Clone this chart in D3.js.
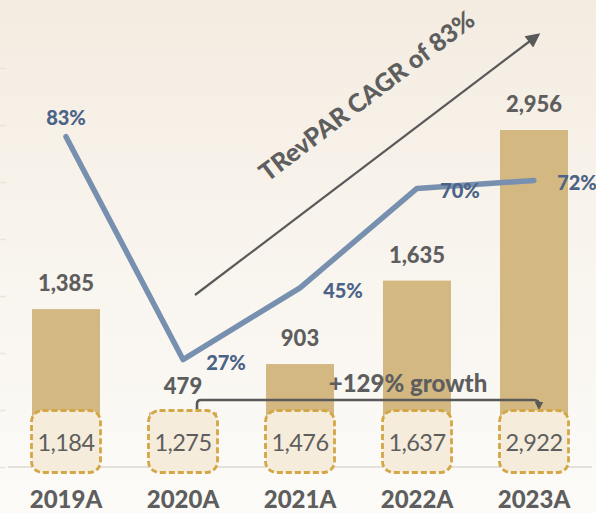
<!DOCTYPE html>
<html>
<head>
<meta charset="utf-8">
<script src="https://cdn.jsdelivr.net/npm/d3@7"></script>
<style>
  html, body { margin: 0; padding: 0; background: #fbf8f3; }
  svg { display: block; }
</style>
</head>
<body>
<svg id="chart" width="596" height="513"></svg>
<script>
// ---- Data ----
const years = ["2019A", "2020A", "2021A", "2022A", "2023A"];
const trevpar = [1385, 479, 903, 1635, 2956];
const boxValues = [1184, 1275, 1476, 1637, 2922];
const marginPct = [83, 27, 45, 70, 72];
const leftTicks = [0, 500, 1000, 1500, 2000, 2500, 3000, 3500];
const cagrLabel = "TRevPAR CAGR of 83%";
const growthLabel = "+129% growth";

// ---- Setup ----
const W = 596, H = 513;
const svg = d3.select("#chart");
const FONT = "Lato, 'Open Sans', sans-serif";
const BOLD = 900;
const GRAY = "#5e5e5e";
const BLUE_TXT = "#4b6386";
const BLUE_LINE = "#7890af";
const BAR = "#d4b882";

const defs = svg.append("defs");
const grad = defs.append("linearGradient").attr("id", "bg").attr("x1", 0).attr("y1", 0).attr("x2", 0).attr("y2", 1);
grad.append("stop").attr("offset", "0%").attr("stop-color", "#f4ece1");
grad.append("stop").attr("offset", "55%").attr("stop-color", "#f9f5ef");
grad.append("stop").attr("offset", "100%").attr("stop-color", "#fcfbf8");
svg.append("rect").attr("width", W).attr("height", H).attr("fill", "url(#bg)");

defs.append("marker").attr("id", "arrowHead").attr("viewBox", "0 0 10 10")
  .attr("refX", 8).attr("refY", 5).attr("markerWidth", 7).attr("markerHeight", 6.5)
  .attr("markerUnits", "strokeWidth").attr("orient", "auto")
  .append("path").attr("d", "M0,0 L10,5 L0,10 z").attr("fill", "#595959");
defs.append("marker").attr("id", "smallHead").attr("viewBox", "0 0 10 10")
  .attr("refX", 6).attr("refY", 5).attr("markerWidth", 3.2).attr("markerHeight", 3.2)
  .attr("markerUnits", "strokeWidth").attr("orient", "auto")
  .append("path").attr("d", "M0,0 L10,5 L0,10 z").attr("fill", "#595959");

// ---- Scales ----
const x = d3.scalePoint().domain(years).range([66, 534]);
const bw = 68;
const y = d3.scaleLinear().domain([0, 3500]).range([467, 68]);
const y2 = d3.scaleLinear().domain([0, 100]).range([467, 69]);

// faint left ticks
const axisL = d3.axisLeft(y).tickValues(leftTicks).tickSize(6).tickFormat("");
const gAx = svg.append("g").attr("transform", "translate(6,0)").call(axisL);
gAx.select(".domain").remove();
gAx.selectAll("line").attr("stroke", "#ebe4d8").attr("stroke-width", 1.5);

// baseline
svg.append("line").attr("x1", 8).attr("x2", 592).attr("y1", y(0)).attr("y2", y(0))
  .attr("stroke", "#e4e0da").attr("stroke-width", 2);

// ---- Bars ----
const data = years.map((yr, i) => ({ yr, v: trevpar[i], b: boxValues[i], p: marginPct[i] }));
svg.append("g").selectAll("rect").data(data).join("rect")
  .attr("x", d => x(d.yr) - bw / 2).attr("width", bw)
  .attr("y", d => y(d.v)).attr("height", d => y(0) - y(d.v))
  .attr("fill", BAR);

// value labels
svg.append("g").selectAll("text").data(data).join("text")
  .attr("x", d => x(d.yr)).attr("y", d => y(d.v) - 18)
  .attr("text-anchor", "middle").attr("font-family", FONT).attr("font-weight", BOLD)
  .attr("font-size", 22).attr("fill", GRAY)
  .text(d => d3.format(",")(d.v));

// ---- CAGR arrow ----
svg.append("line").attr("x1", 195).attr("y1", 295).attr("x2", 538).attr("y2", 35)
  .attr("stroke", "#595959").attr("stroke-width", 2.2).attr("marker-end", "url(#arrowHead)");
svg.append("text")
  .attr("transform", "translate(366,95) rotate(-37.2)")
  .attr("text-anchor", "middle").attr("dominant-baseline", "central")
  .attr("font-family", FONT).attr("font-weight", BOLD).attr("font-size", 25).attr("fill", GRAY)
  .text(cagrLabel);

// ---- Line ----
const line = d3.line().x(d => x(d.yr)).y(d => y2(d.p));
svg.append("path").datum(data).attr("d", line)
  .attr("fill", "none").attr("stroke", BLUE_LINE).attr("stroke-width", 5.5)
  .attr("stroke-linecap", "round").attr("stroke-linejoin", "round");

svg.append("g").selectAll("text").data(data).join("text")
  .attr("x", (d, i) => i === 0 ? x(d.yr) : x(d.yr) + 43)
  .attr("y", (d, i) => i === 0 ? y2(d.p) - 20 : y2(d.p) + 2)
  .attr("text-anchor", "middle").attr("dominant-baseline", "central")
  .attr("font-family", FONT).attr("font-weight", BOLD).attr("font-size", 20).attr("fill", BLUE_TXT)
  .text(d => d.p + "%");

// ---- Growth bracket ----
const gx1 = x("2020A") + 14, gx2 = x("2023A") + 5, gy = 400;
svg.append("path")
  .attr("d", `M${gx1},411 L${gx1},${gy + 4} Q${gx1},${gy} ${gx1 + 4},${gy} L${gx2 - 5},${gy} Q${gx2},${gy} ${gx2},${gy + 5} L${gx2},${gy + 7}`)
  .attr("fill", "none").attr("stroke", "#595959").attr("stroke-width", 2.6)
  .attr("marker-end", "url(#smallHead)");
svg.append("text").attr("x", 408).attr("y", 392)
  .attr("text-anchor", "middle").attr("font-family", FONT).attr("font-weight", BOLD)
  .attr("font-size", 24).attr("fill", GRAY).text(growthLabel);

// ---- Dashed boxes ----
const boxes = svg.append("g").selectAll("g").data(data).join("g");
boxes.append("rect")
  .attr("x", d => x(d.yr) - 34.5).attr("y", 410.5).attr("width", 69).attr("height", 62)
  .attr("rx", 11).attr("ry", 11)
  .attr("fill", "#f5ecdc").attr("stroke", "#d3a646").attr("stroke-width", 2.8)
  .attr("stroke-dasharray", "6,3");
boxes.append("text")
  .attr("x", d => x(d.yr)).attr("y", 442)
  .attr("text-anchor", "middle").attr("dominant-baseline", "central")
  .attr("font-family", FONT).attr("font-weight", 400).attr("font-size", 23.5)
  .attr("letter-spacing", -0.6).attr("fill", GRAY)
  .text(d => d3.format(",")(d.b));

// ---- Year labels ----
svg.append("g").selectAll("text").data(data).join("text")
  .attr("x", d => x(d.yr)).attr("y", 508)
  .attr("text-anchor", "middle").attr("font-family", FONT).attr("font-weight", BOLD)
  .attr("font-size", 24).attr("fill", GRAY)
  .text(d => d.yr);
</script>
</body>
</html>
